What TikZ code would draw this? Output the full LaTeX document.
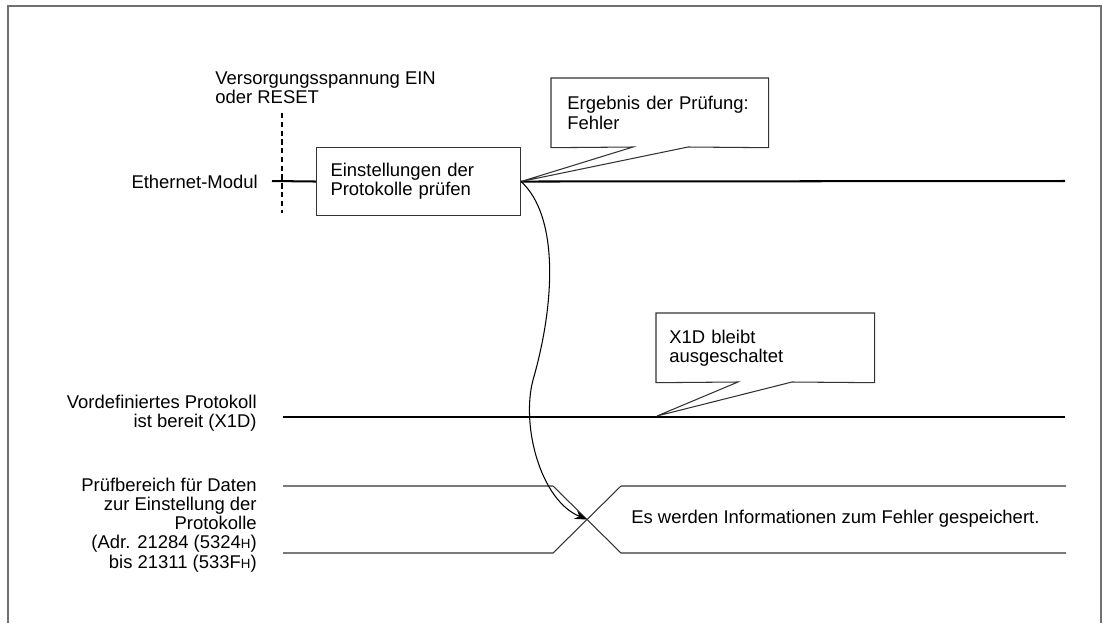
\documentclass[tikz,border=0pt]{standalone}
\usepackage{fontspec}
\setmainfont{Liberation Sans}
\usepackage{tikz}
\usetikzlibrary{arrows.meta}
\usepackage{xcolor}
\definecolor{rahmen}{HTML}{707070}
\definecolor{linie}{HTML}{333333}
\newcommand{\hexH}{{\fontsize{7.6}{8}\selectfont H}}

\begin{document}
\begin{tikzpicture}[x=0.02cm,y=-0.02cm,>={Stealth[length=7pt,width=5pt]},
  every node/.style={font=\fontsize{10.5}{10.9}\selectfont,inner sep=0pt},
  kasten/.style={draw=linie,line width=0.6pt,align=left,anchor=north west},
  sprechblase/.style={align=left,anchor=north west},
  signal/.style={line width=1.15pt},
  duenn/.style={draw=linie,line width=0.6pt}]
  \useasboundingbox (0,0) rectangle (1103,623);
  \draw[rahmen,line width=0.8pt] (8,623) -- (8,6) -- (1101,6) -- (1101,623);

  % Beschriftungen links
  \node[anchor=west,align=left] (versorgung) at (215,87.5) {Versorgungsspannung EIN\\oder RESET};
  \node[anchor=east] (modul) at (258,182) {Ethernet-Modul};
  \node[anchor=east,align=right] (bereit) at (257,413) {Vordefiniertes Protokoll\\ist bereit (X1D)};
  \node[anchor=east,align=right] (bereich) at (257,525)
    {Prüfbereich für Daten\\zur Einstellung der\\Protokolle\\(Adr. 21284 (5324\hexH)\\bis 21311 (533F\hexH)};

  \draw[line width=1.1pt,dash pattern=on 3pt off 2pt] (282,113) -- (282,213);

  % Ethernet-Modul
  \coordinate (m0) at (272,181);
  \coordinate (m1) at (1065,181);
  \node[kasten,minimum width=4.08cm,minimum height=1.36cm,text width=3.52cm,inner xsep=0.28cm]
    (pruef) at (316,147) {Einstellungen der\\Protokolle prüfen};
  \draw[signal] (m0) -- (pruef.west);
  \draw[signal] (pruef.east) -- (m1);

  \node[sprechblase,minimum width=4.34cm,minimum height=1.38cm,text width=3.7cm,inner xsep=0.32cm]
    (ergebnis) at (551,78) {Ergebnis der Prüfung:\\Fehler};
  \coordinate (e1) at (633,147);
  \coordinate (e2) at (688,147);
  \draw[duenn] (e1) -- (ergebnis.south west) -- (ergebnis.north west) -- (ergebnis.north east)
    -- (ergebnis.south east) -- (e2) -- (pruef.east) -- cycle;

  % X1D
  \coordinate (x0) at (283,417);
  \coordinate (x1) at (1065,417);
  \draw[signal] (x0) -- (x1);
  \node[sprechblase,minimum width=4.36cm,minimum height=1.38cm,text width=3.84cm,inner xsep=0.26cm]
    (bleibt) at (656,313) {X1D bleibt\\ausgeschaltet};
  \coordinate (b1) at (738,382);
  \coordinate (b2) at (792,382);
  \coordinate (b0) at (657,416);
  \draw[duenn] (b1) -- (bleibt.south west) -- (bleibt.north west) -- (bleibt.north east)
    -- (bleibt.south east) -- (b2) -- (b0) -- cycle;

  % Datenbereich
  \draw[duenn] (283,486) -- (553,486) -- (621,553) -- (1066,553);
  \draw[duenn] (283,553) -- (553,553) -- (621,486) -- (1066,486);
  \coordinate (kreuz) at (587,519.5);
  \node[anchor=west] (info) at (631,519) {Es werden Informationen zum Fehler gespeichert.};

  \draw[line width=0.6pt,->] (pruef.east) .. controls (558,215) and (556,300) .. (533,380)
    .. controls (521,425) and (540,500) .. (kreuz);
\end{tikzpicture}
\end{document}
